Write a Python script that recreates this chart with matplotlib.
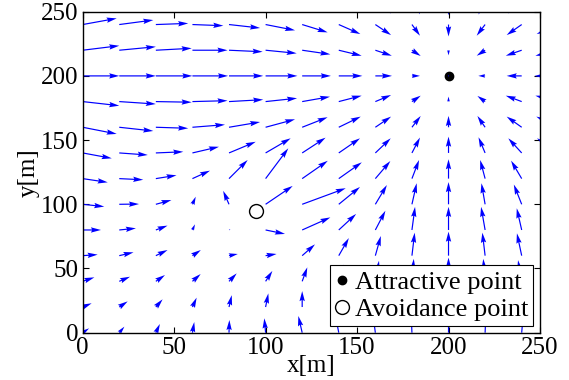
import matplotlib.pyplot as plt
import numpy as np

plt.rcParams['font.family'] = ['Liberation Serif', 'DejaVu Serif']
plt.rcParams['mathtext.fontset'] = 'stix'

# grid positions (m)
x_pos = [0, 20, 40, 60, 80, 100, 120, 140, 160, 180, 200, 220, 240, 260]
y_pos = [0, 20, 40, 60, 80, 100, 120, 140, 160, 180, 200, 220, 240, 260]

# vector components, one row per y (bottom to top)
U = [
    [3.5, 2.8, 2.2, 1.0, 0.2, -0.7, -2.1, -2.0, -1.5, -0.5, 0.0, 0.5, 1.0, 1.5],
    [4.9, 4.6, 3.7, 2.3, 1.5, 1.5, 0.0, 0.3, 0.5, 0.3, 0.0, -0.3, -0.8, -1.5],
    [6.4, 5.9, 5.0, 4.5, 4.2, 3.7, 2.8, 2.5, 2.0, 1.0, 0.0, -1.0, -2.0, -3.0],
    [8.2, 7.8, 6.4, 4.6, 4.8, 6.0, 7.0, 5.5, 3.0, 1.5, 0.0, -1.5, -2.6, -4.0],
    [10.0, 9.1, 6.4, 1.4, 0.8, 10.6, 15.4, 9.5, 5.5, 1.7, 0.0, -2.2, -2.7, -5.0],
    [11.8, 10.8, 8.5, 1.8, -3.2, 14.8, 23.8, 11.6, 6.3, 2.6, 0.0, -2.0, -4.3, -7.0],
    [13.7, 13.1, 11.3, 9.6, 10.2, 12.4, 14.0, 12.6, 8.2, 3.9, 0.0, -2.7, -5.8, -9.0],
    [15.9, 15.6, 15.0, 14.5, 14.6, 13.7, 12.8, 11.6, 8.4, 4.4, 0.0, -3.6, -7.3, -11.6],
    [18.6, 18.6, 17.7, 17.8, 17.0, 16.1, 13.9, 12.0, 8.6, 4.8, 0.0, -4.2, -8.2, -12.0],
    [20.0, 20.0, 19.6, 19.2, 18.7, 17.2, 15.2, 12.5, 8.6, 4.8, 0.0, -4.2, -8.7, -12.5],
    [20.0, 20.0, 20.0, 19.5, 18.7, 17.4, 15.7, 12.9, 9.1, 4.4, 0.0, -3.7, -8.2, -12.9],
    [20.0, 20.0, 19.6, 19.2, 18.4, 17.0, 15.4, 12.5, 9.0, 4.8, 0.0, -4.6, -8.7, -12.5],
    [18.6, 18.6, 17.7, 16.9, 17.0, 16.1, 13.9, 11.8, 8.6, 4.4, 0.0, -4.6, -8.2, -11.8],
    [17.0, 16.5, 15.5, 14.5, 14.0, 13.5, 12.5, 13.0, 8.4, 4.4, 0.0, -3.6, -7.3, -11.0],
]
V = [
    [3.4, 4.7, 6.8, 8.3, 9.9, 11.2, 13.0, 14.5, 16.0, 17.5, 18.5, 17.5, 16.5, 15.0],
    [2.9, 4.4, 6.0, 7.3, 9.2, 10.6, 12.4, 14.0, 16.0, 17.5, 18.7, 17.5, 16.5, 15.0],
    [3.1, 3.6, 4.9, 5.7, 6.2, 8.1, 10.9, 13.0, 16.0, 17.5, 18.5, 17.5, 16.5, 15.0],
    [0.8, 2.6, 4.4, 4.4, 1.3, 1.3, 8.8, 13.7, 15.3, 17.9, 18.7, 17.9, 17.4, 16.0],
    [0.0, 1.3, 3.4, 4.4, 0.5, -3.1, 9.8, 12.5, 15.0, 18.0, 18.0, 18.0, 16.9, 15.5],
    [-1.8, 0.2, 3.3, 5.9, 10.5, 14.3, 12.5, 13.5, 15.0, 16.4, 17.3, 16.4, 15.4, 14.0],
    [-2.9, -0.9, 2.6, 6.2, 14.5, 23.6, 13.9, 12.7, 13.7, 14.5, 15.1, 14.5, 14.0, 12.0],
    [-4.2, -1.6, 0.9, 4.8, 8.7, 11.4, 11.9, 11.4, 11.4, 12.0, 12.7, 12.2, 11.4, 11.4],
    [-5.2, -2.9, -0.8, 2.0, 4.1, 6.2, 7.8, 8.3, 8.3, 8.8, 8.8, 8.8, 8.3, 8.3],
    [-3.2, -1.9, -0.5, 0.7, 1.5, 2.6, 3.8, 4.6, 5.1, 4.6, 3.9, 4.4, 4.6, 4.6],
    [0.0, 0.0, 0.0, 0.0, 0.0, 0.0, 0.0, 0.0, 0.0, 0.0, 0.0, 0.0, 0.0, 0.0],
    [3.5, 2.7, 1.5, 0.0, -1.2, -2.4, -3.2, -4.3, -4.3, -4.5, -4.0, -4.3, -4.3, -4.3],
    [4.8, 3.5, 0.9, -0.9, -2.7, -4.5, -6.1, -7.4, -8.2, -8.7, -9.3, -8.7, -8.2, -7.4],
    [3.0, 1.0, -1.0, -2.5, -4.0, -5.5, -8.0, -9.5, -11.4, -12.0, -12.7, -12.2, -11.4, -11.0],
]

attractive = (200, 200)
avoidance = (95, 95)

X, Y = np.meshgrid(x_pos, y_pos)

fig = plt.figure(figsize=(5.69, 3.80), dpi=100)
ax = fig.add_axes([0.1453, 0.1245, 0.8037, 0.8447])

ax.quiver(X, Y, np.array(U), np.array(V), angles='xy', scale_units='xy', scale=1,
          color='blue', width=0.0026, headwidth=4.5, headlength=8.5,
          headaxislength=7.5, zorder=2)

ax.plot(*attractive, 'o', color='black', markerfacecolor='black', markersize=6,
        linestyle='none', label='Attractive point', zorder=1)
ax.plot(*avoidance, 'o', color='black', markerfacecolor='none', markersize=10,
        markeredgewidth=1.0, linestyle='none', label='Avoidance point', zorder=3)

ax.set_xlim(0, 250)
ax.set_ylim(0, 250)
ax.set_xticks([0, 50, 100, 150, 200, 250])
ax.set_yticks([0, 50, 100, 150, 200, 250])
ax.tick_params(direction='in', top=True, right=True, labelsize=18, length=4, pad=3)
for s in ax.spines.values():
    s.set_linewidth(1.0)

ax.set_xlabel('x[m]', fontsize=18, labelpad=-3)
ax.set_ylabel('y[m]', fontsize=18, labelpad=1)

leg = ax.legend(loc='lower right', fontsize=19, fancybox=False, framealpha=1,
                edgecolor='black', borderpad=0.2, handlelength=0.5,
                handletextpad=0.25, labelspacing=0.12, borderaxespad=0.25)
leg.get_frame().set_linewidth(0.8)

fig.savefig('out.png', dpi=100)
